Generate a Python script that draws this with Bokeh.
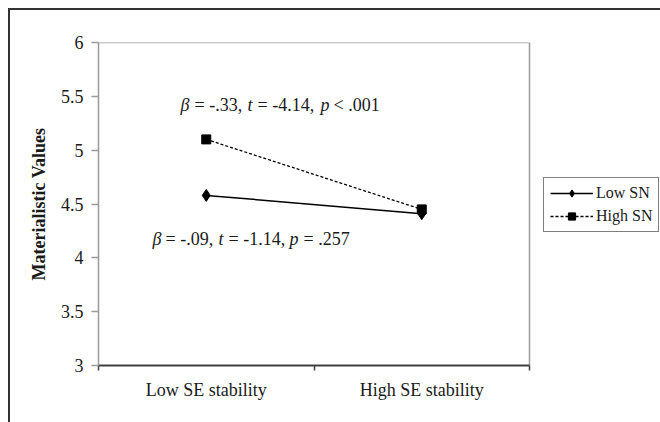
from bokeh.plotting import figure
from bokeh.models import Range1d, FixedTicker, Legend, LegendItem, Label
from bokeh.embed import file_html
from bokeh.resources import INLINE

# ---- data ----
categories = ["Low SE stability", "High SE stability"]
low_sn = [4.58, 4.41]
high_sn = [5.10, 4.45]
series_names = ["Low SN", "High SN"]
y_ticks = [3, 3.5, 4, 4.5, 5, 5.5, 6]
y_label = "Materialistic Values"

# annotation texts: (segment, italic)
ann_high = [("β", True), ("= -.33,", False), ("t", True), ("= -4.14,", False), ("p", True), ("< .001", False)]
ann_low = [("β", True), ("= -.09,", False), ("t", True), ("= -1.14,", False), ("p", True), ("= .257", False)]
ann_high_y = 5.415
ann_low_y = 4.175

FONT = "Liberation Serif"
TXT = "#1a1a1a"
GRAY = "#9a9a9a"

n = len(categories)
x_pos = [i + 0.5 for i in range(n)]
y_min, y_max = y_ticks[0], y_ticks[-1]

# plot area is 431px wide; the frame is extended to the right so the legend can sit outside it
PLOT_W, FRAME_W = 431, 562
x_end = n * FRAME_W / PLOT_W

p = figure(frame_width=FRAME_W, frame_height=323, output_backend="svg", toolbar_location=None,
           x_range=Range1d(0, x_end), y_range=Range1d(y_min, y_max),
           min_border_left=88, min_border_right=0, min_border_top=32, min_border_bottom=57)
p.styles = {"margin-left": "8px", "margin-top": "8px",
            "border-left": "2px solid #333333", "border-top": "2px solid #333333"}
p.grid.visible = False
p.outline_line_color = None
p.background_fill_color = "white"
p.border_fill_color = "white"

# plot-area frame (top and right edges)
p.line([0, n, n], [y_max, y_max, y_min], line_color=GRAY, line_width=1.5)

# x axis
xa = p.xaxis[0]
xa.bounds = (0, n)
xa.ticker = FixedTicker(ticks=x_pos, minor_ticks=list(range(n + 1)))
xa.major_label_overrides = {x: c for x, c in zip(x_pos, categories)}
xa.major_tick_line_color = None
xa.major_tick_out = 0
xa.major_tick_in = 0
xa.minor_tick_line_color = "#404040"
xa.minor_tick_line_width = 1.5
xa.minor_tick_out = 5
xa.minor_tick_in = 0
xa.axis_line_color = "#404040"
xa.axis_line_width = 2
xa.major_label_text_font = FONT
xa.major_label_text_font_size = "18px"
xa.major_label_text_color = TXT
xa.major_label_standoff = 9

# y axis
ya = p.yaxis[0]
ya.ticker = FixedTicker(ticks=y_ticks, minor_ticks=[])
ya.major_label_overrides = {t: f"{t:g}" for t in y_ticks}
ya.axis_line_color = GRAY
ya.axis_line_width = 1.5
ya.major_tick_line_color = GRAY
ya.major_tick_line_width = 1.5
ya.major_tick_out = 7
ya.major_tick_in = 0
ya.major_label_text_font = FONT
ya.major_label_text_font_size = "18px"
ya.major_label_text_color = TXT
ya.major_label_standoff = 8
ya.axis_label = y_label
ya.axis_label_text_font = FONT
ya.axis_label_text_font_size = "18px"
ya.axis_label_text_font_style = "bold"
ya.axis_label_text_color = TXT
ya.axis_label_standoff = 9

# series
l1 = p.line(x_pos, low_sn, line_color="black", line_width=1.5)
m1 = p.scatter(x_pos, low_sn, marker="diamond", size=12, color="black")
l2 = p.line(x_pos, high_sn, line_color="black", line_width=1.3, line_dash="3 2")
m2 = p.scatter(x_pos, high_sn, marker="square", size=9, color="black")

legend = Legend(items=[LegendItem(label=series_names[0], renderers=[l1, m1]),
                       LegendItem(label=series_names[1], renderers=[l2, m2])],
                location=(445, 133), orientation="vertical")
legend.border_line_color = "black"
legend.border_line_width = 1
legend.background_fill_alpha = 1
legend.label_text_font = FONT
legend.label_text_font_size = "16px"
legend.label_text_color = TXT
legend.glyph_width = 43
legend.glyph_height = 18
legend.label_standoff = 3
legend.padding = 6
legend.spacing = 5
legend.margin = 0
p.add_layout(legend)


def add_annotation(segments, x0, offsets, y):
    for (txt, ital), off in zip(segments, offsets):
        p.add_layout(Label(x=0, y=y, x_offset=x0 + off, text=txt,
                           text_font=FONT, text_font_size="18px", text_color=TXT,
                           text_font_style="italic" if ital else "normal",
                           text_baseline="alphabetic", text_align="left"))


add_annotation(ann_high, 82, [0, 14, 67, 77, 140, 153], ann_high_y)
add_annotation(ann_low, 54, [0, 13, 66, 76, 137, 151], ann_low_y)

open("out.html", "w").write(file_html(p, INLINE))
